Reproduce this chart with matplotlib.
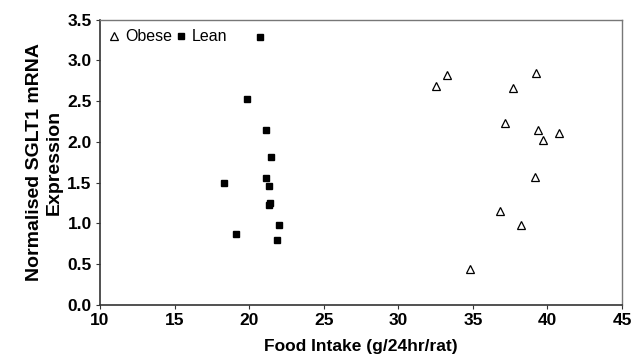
import matplotlib.pyplot as plt

plt.rcParams['font.family'] = ['Liberation Sans', 'DejaVu Sans']

# data
obese_x = [33.28, 32.54, 39.25, 37.68, 37.15, 39.40, 40.81, 39.69, 39.16, 36.81, 38.22, 34.83]
obese_y = [2.82, 2.69, 2.84, 2.66, 2.23, 2.14, 2.11, 2.02, 1.57, 1.15, 0.98, 0.44]
lean_x = [20.76, 19.83, 21.10, 21.47, 21.10, 18.33, 21.34, 21.43, 21.34, 21.99, 19.09, 21.84]
lean_y = [3.29, 2.52, 2.14, 1.81, 1.56, 1.50, 1.46, 1.25, 1.22, 0.98, 0.87, 0.80]

fig = plt.figure(figsize=(6.42, 3.64), dpi=100)
ax = fig.add_axes([0.1558, 0.1621, 0.813, 0.7843])

ax.plot(obese_x, obese_y, linestyle='none', marker='^', markersize=5.5,
        markerfacecolor='none', markeredgecolor='black', markeredgewidth=0.9, label='Obese')
ax.plot(lean_x, lean_y, linestyle='none', marker='s', markersize=4.5,
        color='black', label='Lean')

ax.set_xlim(10, 45)
ax.set_ylim(0, 3.5)
ax.set_xticks(range(10, 46, 5))
ax.set_yticks([0.0, 0.5, 1.0, 1.5, 2.0, 2.5, 3.0, 3.5])
ax.set_yticklabels(['0.0', '0.5', '1.0', '1.5', '2.0', '2.5', '3.0', '3.5'])

for side in ['left', 'bottom']:
    ax.spines[side].set_color('#333333')
    ax.spines[side].set_linewidth(1.2)
for side in ['top', 'right']:
    ax.spines[side].set_color('#777777')
    ax.spines[side].set_linewidth(1.0)

ax.tick_params(direction='out', length=3, width=0.8, color='#333333', pad=3)
for lab in ax.get_xticklabels() + ax.get_yticklabels():
    lab.set_fontweight('bold')
    lab.set_fontsize(12.5)

ax.set_xlabel('Food Intake (g/24hr/rat)', fontsize=12.5, fontweight='bold', labelpad=8)
ax.set_ylabel('Normalised SGLT1 mRNA\nExpression', fontsize=14, fontweight='bold',
              labelpad=3, linespacing=1.25)

ax.legend(loc='upper left', ncol=2, frameon=False, fontsize=11.5, handlelength=0.6,
          handletextpad=0.35, columnspacing=0.3, borderaxespad=0.2, bbox_to_anchor=(0.0, 1.0))

fig.savefig('out.png', dpi=100)
